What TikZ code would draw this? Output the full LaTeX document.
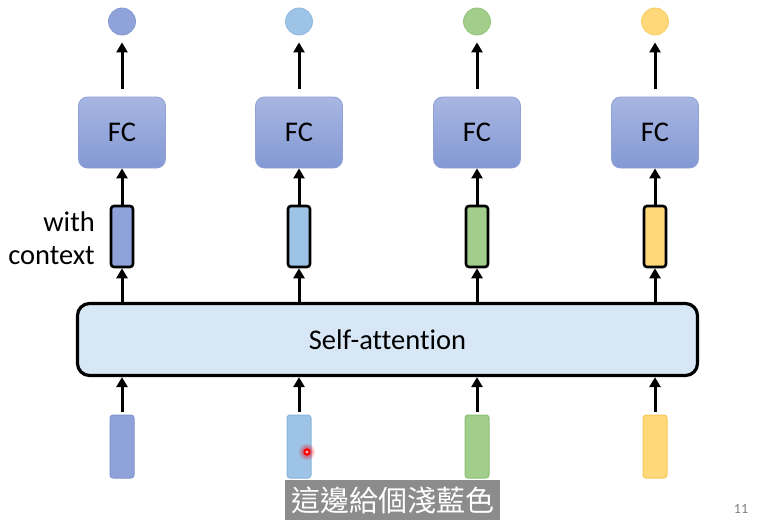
\documentclass[tikz,border=0pt]{standalone}
\usepackage{fontspec}
\setmainfont{Carlito}[Ligatures=NoCommon]
\newfontfamily\cjk{Noto Sans CJK TC}
\usetikzlibrary{arrows.meta,shadings}
\definecolor{fctop}{HTML}{A7B6E2}
\definecolor{fcbot}{HTML}{8499D4}
\definecolor{fcline}{HTML}{8FA1D6}
\definecolor{cA}{HTML}{8FA3DA}
\definecolor{cB}{HTML}{9DC3E6}
\definecolor{cC}{HTML}{A2CE8B}
\definecolor{cD}{HTML}{FFD87A}
\definecolor{lA}{HTML}{7F95CF}
\definecolor{lB}{HTML}{8AB4DC}
\definecolor{lC}{HTML}{8CBF73}
\definecolor{lD}{HTML}{F5C85A}
\definecolor{attn}{HTML}{D8E7F5}
\definecolor{subbg}{HTML}{8C8C8C}
\tikzset{
  fcbox/.style={draw=fcline, line width=0.8pt, rounded corners=9pt, top color=fctop, bottom color=fcbot,
    minimum width=87pt, minimum height=71pt, inner sep=0pt, font=\fontsize{28.5}{32}\selectfont},
  outdot/.style={circle, minimum size=27pt, inner sep=0pt, line width=0.8pt},
  ctxbox/.style={draw=black, line width=2.6pt, rounded corners=3pt, minimum width=22pt, minimum height=61pt, inner sep=0pt},
  inbox/.style={line width=1pt, rounded corners=3pt, minimum width=24pt, minimum height=63pt, inner sep=0pt},
  arr/.style={-{Triangle[length=10pt,width=11pt]}, line width=3pt, black},
  lbl/.style={font=\fontsize{28.5}{32}\selectfont, inner sep=0pt}
}
\begin{document}
\begin{tikzpicture}[x=1pt,y=-1pt]
\useasboundingbox (0,0) rectangle (763,528);
\fill[white] (0,0) rectangle (763,528);
% self-attention
\node[draw=black, line width=3.2pt, rounded corners=12pt, fill=attn, minimum width=620pt, minimum height=72pt, inner sep=0pt,
  font=\fontsize{28.5}{32}\selectfont] (sa) at (387.5,339.5) {Self-attention};
% columns
\foreach \i/\x/\c/\l in {1/122/cA/lA, 2/299/cB/lB, 3/477/cC/lC, 4/655/cD/lD}{
  \node[outdot, fill=\c, draw=\l!70!\c] (o\i) at (\x,21.5) {};
  \node[fcbox] (fc\i) at (\x,132.5) {FC};
  \node[ctxbox, fill=\c] (h\i) at (\x,236.5) {};
  \node[inbox, fill=\c, draw=\l] (in\i) at (\x,446.5) {};
  \draw[arr, shorten <=8pt, shorten >=7pt] (fc\i.north) -- (o\i.south);
  \draw[arr] (h\i.north) -- (fc\i.south);
  \draw[arr] (h\i.south |- sa.north) -- (h\i.south);
  \draw[arr, shorten <=3pt] (in\i.north) -- (in\i.north |- sa.south);
}
% label
\node[lbl, anchor=east] (w) at (95,222) {with};
\node[lbl, anchor=east] (ctx) at (95,256) {context};
% cursor dot
\fill[red, opacity=0.15] (307,452) circle (8pt);
\fill[red, opacity=0.25] (307,452) circle (6pt);
\fill[red] (307,452) circle (3.8pt);
\fill[red!30!white] (307,452) circle (1.6pt);
% subtitle
\node[fill=subbg, text=white, minimum width=215pt, minimum height=40pt, inner sep=0pt,
  font=\cjk\fontsize{29}{32}\selectfont] (sub) at (392.5,500) {這邊給個淺藍色};
% page number
\node[text=gray, font=\fontsize{14}{16}\selectfont, inner sep=0pt] (pg) at (741,509) {11};
\end{tikzpicture}
\end{document}
